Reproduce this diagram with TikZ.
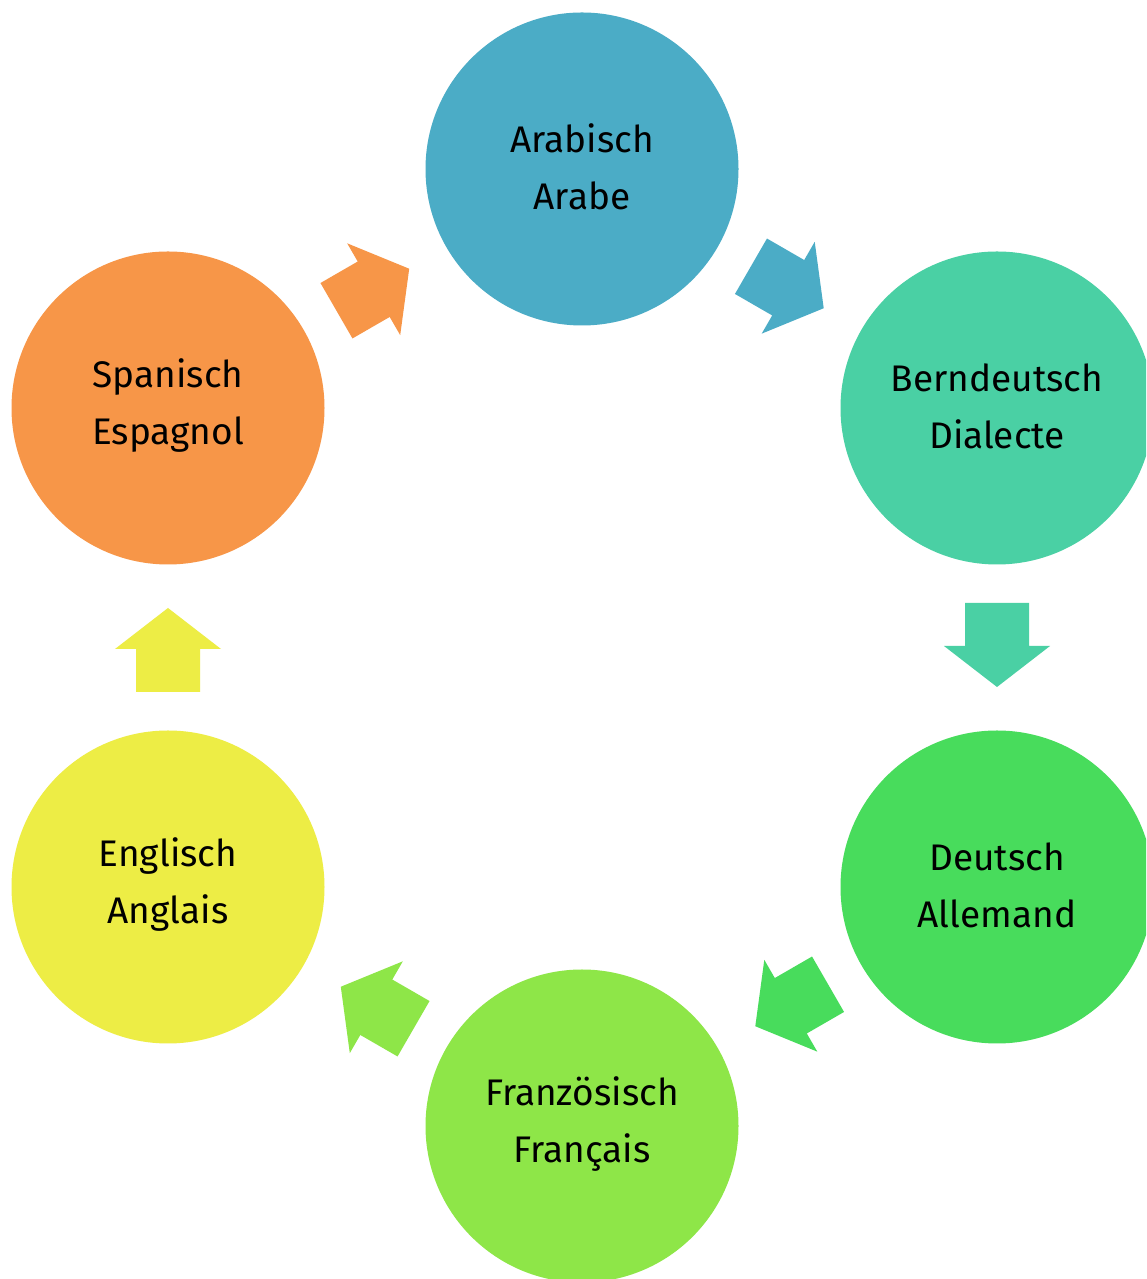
\documentclass[tikz,border=0pt]{standalone}
\usepackage{fontspec}
\setmainfont{Fira Sans}
\usetikzlibrary{calc}
\definecolor{cA}{RGB}{75,172,198}
\definecolor{cB}{RGB}{74,208,164}
\definecolor{cD}{RGB}{72,220,92}
\definecolor{cF}{RGB}{142,230,72}
\definecolor{cE}{RGB}{237,237,69}
\definecolor{cS}{RGB}{247,150,72}
\tikzset{
  bubble/.style={circle, inner sep=0pt, minimum size=313pt},
  label text/.style={align=center, font=\fontsize{37}{57}\selectfont, text=black, inner sep=0pt},
}
\newcommand{\blockarr}[4]{%
  \begin{scope}[shift={($(#1)!0.5!(#2)$)}, rotate=#3]
    \fill[#4] (-44.5,32) -- (-1.5,32) -- (-1.5,53) -- (39.5,0) -- (-1.5,-53) -- (-1.5,-32) -- (-44.5,-32) -- cycle;
  \end{scope}}
\begin{document}
\begin{tikzpicture}[x=1pt,y=1pt]
\useasboundingbox (0,0) rectangle (1146,1279);
\clip (0,0) rectangle (1146,1279);
\fill[white] (0,0) rectangle (1146,1279);
\node[bubble, fill=cA] (A) at (582,1110) {};
\node[bubble, fill=cB] (B) at (997,871) {};
\node[bubble, fill=cD] (D) at (997,392) {};
\node[bubble, fill=cF] (F) at (582,153) {};
\node[bubble, fill=cE] (E) at (168,392) {};
\node[bubble, fill=cS] (S) at (168,871) {};
\node[label text] (tA) at ($(A.center)+(0,2)$) {Arabisch\\Arabe};
\node[label text] (tB) at ($(B.center)+(0,2)$) {Berndeutsch\\Dialecte};
\node[label text] (tD) at ($(D.center)+(0,2)$) {Deutsch\\Allemand};
\node[label text] (tF) at ($(F.center)+(0,2)$) {Französisch\\Français};
\node[label text] (tE) at ($(E.center)+(0,2)$) {Englisch\\Anglais};
\node[label text] (tS) at ($(S.center)+(0,2)$) {Spanisch\\Espagnol};
\blockarr{A.center}{B.center}{-30}{cA}
\blockarr{B.center}{D.center}{-90}{cB}
\blockarr{D.center}{F.center}{-150}{cD}
\blockarr{F.center}{E.center}{150}{cF}
\blockarr{E.center}{S.center}{90}{cE}
\blockarr{S.center}{A.center}{30}{cS}
\end{tikzpicture}
\end{document}
